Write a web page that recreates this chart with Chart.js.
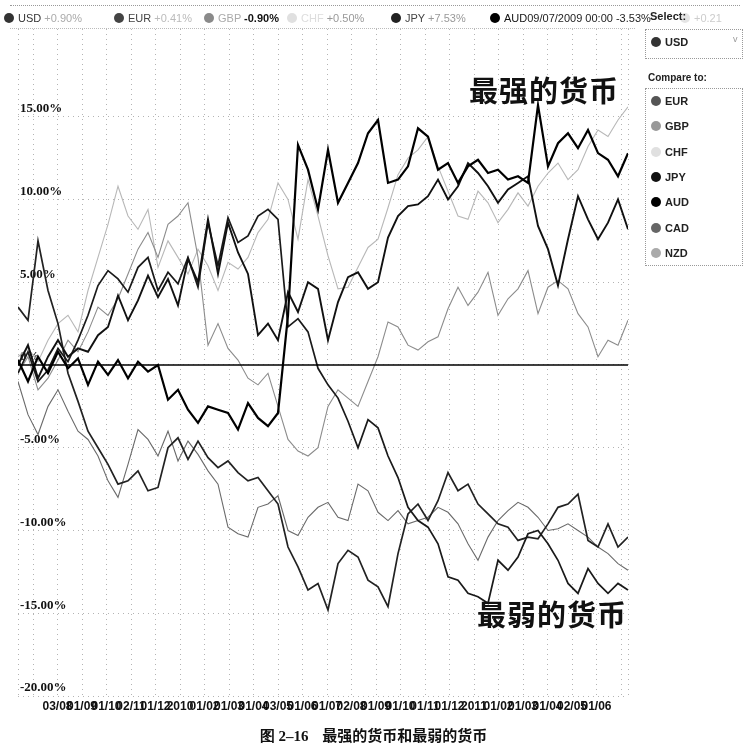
<!DOCTYPE html>
<html>
<head>
<meta charset="utf-8">
<script src="https://cdn.jsdelivr.net/npm/chart.js@4.4.0/dist/chart.umd.min.js"></script>
<style>
html, body { margin: 0; padding: 0; background: #fff; }
#wrap { position: relative; width: 747px; height: 747px; overflow: hidden; font-family: "Liberation Sans", Arial, sans-serif; }
#c { position: absolute; left: 0; top: 0; }
.abs { position: absolute; white-space: nowrap; }
.dot { display: inline-block; width: 10px; height: 10px; border-radius: 50%; vertical-align: -1px; margin-right: 4px; }
.top { font-size: 11px; top: 12px; }
.box { border: 1px dotted #999; }
.item { font-size: 11px; font-weight: bold; color: #222; left: 651px; }
.cn { font-family: "Noto Sans CJK SC", sans-serif; font-weight: bold; font-size: 29px; color: #111; letter-spacing: 1px; }
</style>
</head>
<body>
<div id="wrap">
  <canvas id="c" width="747" height="747"></canvas>
  <div id="overlay"></div>
</div>
<script>
// x = sample index (about one every 10px across the plot), y = % change vs USD
var xLabels = ['03/08', '01/09', '01/10', '02/11', '01/12', '2010', '01/02', '01/03', '01/04', '03/05', '01/06', '01/07',
               '02/08', '01/09', '01/10', '01/11', '01/12', '2011', '01/02', '01/03', '01/04', '02/05', '01/06'];
var yTicks = [-20, -15, -10, -5, 0, 5, 10, 15];

var jpy = [0.3, -1.0, 0.5, -0.5, 0.8, -0.2, 0.4, -1.2, 0.2, -0.6, 0.3, -0.8, 0.2, -0.4, 0.0,
           -2.1, -1.5, -2.7, -3.5, -2.5, -2.7, -2.9, -3.9, -2.3, -3.2, -3.7, -2.9,
           3.0, 13.3, 11.8, 9.4, 13.0, 9.8, 11.0, 12.2, 14.0, 14.8, 11.0, 11.2, 12.0, 14.3, 13.8, 11.8,
           12.2, 11.0, 12.0, 12.4, 11.6, 11.8, 11.2, 11.4, 11.0, 15.7, 12.0, 13.4, 14.0, 13.1, 14.2, 12.8,
           12.4, 11.4, 12.8];
var aud = [0.0, 1.2, -0.8, 0.5, 1.5, 0.5, 1.0, 0.8, 1.8, 2.3, 4.2, 2.7, 3.9, 5.4, 4.1, 5.2, 3.6, 6.4, 5.0, 8.8,
           5.5, 8.6, 6.8, 5.5, 1.8, 2.5, 1.5, 4.4, 3.2, 5.0, 4.6, 1.5, 3.8, 5.3, 5.6, 4.6, 5.0, 7.7, 9.0, 9.6,
           9.7, 10.2, 11.2, 10.0, 10.8, 12.2, 11.6, 10.8, 9.8, 10.6, 11.0, 11.4, 8.4, 7.0, 4.8, 7.6, 10.2, 8.8,
           7.6, 8.6, 10.0, 8.2];
var eur = [-0.5, 0.8, -1.0, -0.3, 1.0, 0.2, 1.5, 3.0, 4.8, 5.7, 5.2, 4.4, 5.9, 6.5, 4.5, 5.6, 4.9, 6.5, 4.7, 8.6,
           6.0, 8.9, 7.4, 7.8, 9.0, 9.4, 8.8, 2.3, 2.8, 2.0, -0.2, -1.2, -2.0, -3.4, -5.0, -3.3, -3.8, -5.5, -6.8, -8.6,
           -9.4, -9.8, -10.8, -12.8, -13.0, -13.8, -14.0, -14.4, -11.8, -12.4, -11.6, -10.2, -10.0, -10.8, -11.8, -13.2,
           -13.8, -12.3, -13.2, -13.8, -13.2, -13.6];
var cad = [3.5, 2.7, 7.5, 4.5, 2.5, -0.5, -2.2, -4.0, -5.0, -6.0, -7.2, -7.0, -6.4, -7.6, -7.4, -5.0, -4.4, -5.7, -4.6, -5.6,
           -6.2, -5.8, -6.5, -7.0, -6.8, -7.6, -8.4, -11.0, -12.2, -13.6, -13.2, -14.8, -12.0, -11.2, -11.6, -13.0, -13.4,
           -14.6, -11.4, -9.0, -8.4, -9.4, -8.2, -6.5, -7.6, -7.2, -8.4, -9.0, -9.6, -9.8, -10.6, -10.4, -10.5, -9.6,
           -8.6, -8.4, -7.8, -10.6, -11.0, -9.6, -11.0, -10.4];
var nzd = [-1.0, -3.0, -4.2, -2.5, -1.5, -2.8, -4.0, -4.5, -5.5, -7.0, -8.0, -6.0, -3.9, -4.5, -5.5, -4.0, -5.8, -4.6, -5.4, -6.4,
           -7.2, -9.8, -10.2, -10.4, -8.6, -8.4, -7.9, -10.0, -10.3, -9.2, -8.6, -8.3, -9.2, -9.4, -7.2, -7.6, -8.9, -9.4,
           -8.8, -9.6, -9.4, -9.2, -8.6, -8.9, -9.6, -10.8, -11.8, -10.4, -9.4, -8.8, -8.3, -8.6, -9.2, -10.0, -9.9, -9.6,
           -10.0, -10.4, -11.0, -11.4, -12.0, -12.4];
var gbp = [-0.5, 0.5, -1.5, -0.8, 0.3, 1.5, 0.8, 2.0, 3.5, 3.0, 4.0, 5.5, 7.0, 8.0, 6.5, 8.5, 9.0, 9.8, 6.5, 1.2,
           2.5, 1.0, 0.3, -0.8, -1.2, -0.5, -2.5, -4.5, -5.2, -5.5, -5.0, -2.5, -1.5, -2.0, -2.5, -1.0, 0.5, 2.6, 2.3, 1.2,
           0.9, 1.4, 1.7, 3.4, 4.7, 3.6, 4.4, 5.6, 3.0, 4.0, 4.6, 5.7, 3.1, 4.7, 5.1, 4.6, 3.1, 2.3, 0.5, 1.5, 1.2, 2.7];
var chf = [0.5, 1.0, 0.2, 1.5, 2.5, 3.0, 2.0, 4.5, 6.5, 8.5, 10.8, 9.0, 8.2, 9.4, 5.9, 7.5, 6.5, 5.5, 7.0, 6.0,
           4.5, 6.2, 5.8, 6.5, 8.0, 8.8, 11.0, 10.0, 7.6, 11.2, 9.0, 6.6, 4.6, 4.7, 5.9, 7.1, 7.6, 9.5, 11.5, 12.5,
           13.0, 13.8, 12.0, 10.5, 9.0, 8.8, 10.5, 9.8, 8.6, 9.4, 10.4, 9.6, 10.8, 11.6, 12.2, 11.2, 11.8, 13.2, 14.2,
           13.8, 14.8, 15.6];
var zeroLine = [0, 0];

// header legend (hover read-out) and the "compare to" list
var topNames = ['USD', 'EUR', 'GBP', 'CHF', 'JPY', 'AUD'];
var topValues = ['+0.90%', '+0.41%', '-0.90%', '+0.50%', '+7.53%', '09/07/2009 00:00 -3.53%'];
var compareNames = ['EUR', 'GBP', 'CHF', 'JPY', 'AUD', 'CAD', 'NZD'];

function pts(arr) {
    return arr.map(function(v, i) { return { x: i, y: v }; });
}

var lastX = jpy.length - 1;
var gridX = [0];
for (var k = 0; k < 25; k++) gridX.push(1.5 + 2.45 * k);
gridX.push(lastX);

var datasets = [
    { data: zeroLine.map(function(v, i) { return { x: i * lastX, y: v }; }), borderColor: '#000', borderWidth: 1.6 },
    { data: pts(jpy), borderColor: '#000', borderWidth: 2.2 },
    { data: pts(aud), borderColor: '#111', borderWidth: 1.9 },
    { data: pts(eur), borderColor: '#1a1a1a', borderWidth: 1.7 },
    { data: pts(cad), borderColor: '#222', borderWidth: 1.7 },
    { data: pts(nzd), borderColor: '#6a6a6a', borderWidth: 1.1 },
    { data: pts(gbp), borderColor: '#8c8c8c', borderWidth: 1.1 },
    { data: pts(chf), borderColor: '#b8b8b8', borderWidth: 1.1 }
];
datasets.forEach(function(d) { d.pointRadius = 0; d.tension = 0; d.fill = false; });

new Chart(document.getElementById('c'), {
    type: 'line',
    data: { datasets: datasets },
    options: {
        responsive: false,
        animation: false,
        devicePixelRatio: 1,
        layout: { padding: { left: 18, right: 119, top: 29, bottom: 31 } },
        plugins: { legend: { display: false }, tooltip: { enabled: false } },
        scales: {
            x: {
                type: 'linear', min: 0, max: lastX,
                afterBuildTicks: function(s) { s.ticks = gridX.map(function(v) { return { value: v }; }); },
                afterFit: function(s) { s.height = 20; },
                grid: { color: '#b4b4b4', drawTicks: false },
                border: { display: false, dash: [1, 4] },
                ticks: {
                    autoSkip: false, maxRotation: 0, minRotation: 0, padding: 3,
                    color: '#111', font: { family: 'Liberation Sans', size: 12, weight: 'bold' },
                    callback: function(v, i) { return (i >= 2 && i - 2 < xLabels.length) ? xLabels[i - 2] : ''; }
                }
            },
            y: {
                min: -20, max: 20.3,
                afterBuildTicks: function(s) { s.ticks = yTicks.map(function(v) { return { value: v }; }); },
                afterFit: function(s) { s.width = 0; },
                grid: { color: '#b4b4b4', drawTicks: false },
                border: { display: false, dash: [1, 4] },
                ticks: {
                    mirror: true, padding: 2, labelOffset: -8,
                    color: '#111', font: { family: 'Liberation Serif', size: 13, weight: 'bold' },
                    callback: function(v) { return v === 0 ? '0%' : v.toFixed(2) + '%'; }
                }
            }
        }
    }
});

// overlay texts
var ov = document.getElementById('overlay');
function add(html, cls, style) {
    var d = document.createElement('div');
    d.className = 'abs ' + (cls || '');
    d.setAttribute('style', style);
    d.innerHTML = html;
    ov.appendChild(d);
    return d;
}
var topMark = ['#333', '#444', '#8a8a8a', '#e0e0e0', '#222', '#000'];
var topNameCol = ['#333', '#444', '#aaa', '#ddd', '#444', '#111'];
var topValCol = ['#aaa', '#bbb', '#111', '#999', '#999', '#222'];
var topLeft = [4, 114, 204, 287, 391, 490];
topNames.forEach(function(n, i) {
    add('<span class="dot" style="background:' + topMark[i] + '"></span><span style="color:' + topNameCol[i] + '">' + n + '</span>' +
        (i === 5 ? '' : ' ') + '<span style="color:' + topValCol[i] + (i === 2 ? ';font-weight:bold' : '') + '">' + topValues[i] + '</span>',
        'top', 'left:' + topLeft[i] + 'px;');
});
add('<span class="dot" style="background:#e4e4e4"></span><span style="color:#ccc">+0.21</span>', 'top', 'left:680px;');
add('', '', 'left:10px;top:5px;width:730px;height:0;border-top:1px dotted #999;');
add('', '', 'left:10px;top:28px;width:625px;height:0;border-top:1px dotted #bbb;');

add('Select:', '', 'left:650px;top:10px;font-size:11px;font-weight:bold;color:#222;');
add('', 'box', 'left:645px;top:29px;width:96px;height:28px;');
add('<span class="dot" style="background:#333"></span>USD', 'item', 'top:36px;');
add('v', '', 'left:733px;top:34px;font-size:9px;color:#999;');
add('Compare to:', '', 'left:648px;top:72px;font-size:10px;font-weight:bold;color:#222;');
add('', 'box', 'left:645px;top:88px;width:96px;height:176px;');
var cmpMark = ['#555', '#999', '#e0e0e0', '#111', '#000', '#666', '#aaa'];
compareNames.forEach(function(n, i) {
    add('<span class="dot" style="background:' + cmpMark[i] + '"></span>' + n, 'item', 'top:' + (95 + 25.3 * i) + 'px;');
});

add('最强的货币', 'cn', 'left:469px;top:68px;');
add('最弱的货币', 'cn', 'left:477px;top:592px;');
add('<span style="font-family:\'Liberation Serif\'">图 2–16</span>&nbsp;&nbsp;&nbsp; 最强的货币和最弱的货币', '',
    'left:0;width:747px;text-align:center;top:724px;font-family:\'Noto Sans CJK SC\',sans-serif;font-weight:bold;font-size:15px;color:#111;');
</script>
</body>
</html>
